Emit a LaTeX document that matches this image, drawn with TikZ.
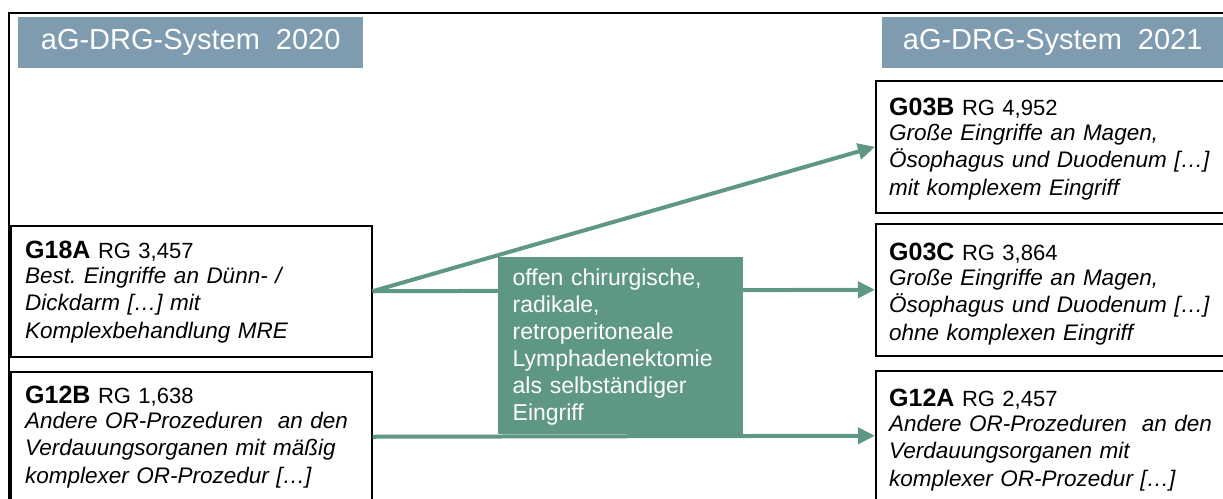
\documentclass[tikz,border=0pt]{standalone}
\usepackage{fontspec}
\setmainfont{Liberation Sans}
\usetikzlibrary{arrows.meta}
\frenchspacing

\definecolor{headblue}{RGB}{127,155,175}
\definecolor{drggreen}{RGB}{94,151,131}

\tikzset{
  frameline/.style={draw=black, line width=2.5pt},
  header/.style={fill=headblue, draw=none, anchor=north west, inner sep=0pt,
    text=white, font=\fontsize{29}{31}\selectfont},
  drgbox/.style={draw=black, line width=1.5pt, fill=white, anchor=north west,
    inner sep=0pt},
  drgtext/.style={anchor=base west, inner sep=0pt, text width=400pt, align=left,
    font=\fontsize{22.5}{27.5}\selectfont},
  notebox/.style={fill=drggreen, draw=none, anchor=north west, inner sep=0pt},
  notetext/.style={anchor=base west, inner sep=0pt, text width=240pt, align=left,
    text=white, font=\fontsize{23}{27}\selectfont},
  flow/.style={draw=drggreen, line width=4pt,
    -{Triangle[length=17pt,width=16pt]}},
}

\newcommand{\drgcode}[2]{{\fontsize{25}{27.5}\selectfont\bfseries #1} {\fontsize{22}{27.5}\selectfont RG #2}}

\begin{document}
\begin{tikzpicture}[x=1pt,y=-1pt]
  \useasboundingbox (0,0) rectangle (1223,498);
  \clip (0,0) rectangle (1223,498);

  % outer frame (open to the right and bottom)
  \draw[frameline] (9,540) -- (9,13) -- (1260,13);

  % system headers
  \node[header, minimum width=345pt, minimum height=51pt] (h2020) at (18,17)
    {aG-DRG-System\hspace{16pt}2020};
  \node[header, minimum width=341pt, minimum height=51pt] (h2021) at (882,17)
    {aG-DRG-System\hspace{16pt}2021};

  % DRG boxes, 2020
  \node[drgbox, minimum width=361pt, minimum height=131pt] (g18a) at (10,225) {};
  \node[drgbox, minimum width=361pt, minimum height=130pt] (g12b) at (10,371) {};
  % DRG boxes, 2021
  \node[drgbox, minimum width=360pt, minimum height=132pt] (g03b) at (875,80) {};
  \node[drgbox, minimum width=360pt, minimum height=132pt] (g03c) at (875,223) {};
  \node[drgbox, minimum width=360pt, minimum height=130pt] (g12a) at (875,370) {};

  % box texts
  \node[drgtext] (g18at) at (25,258) {\drgcode{G18A}{3,457}\\[-2.5pt]
    \itshape Best. Eingriffe an Dünn- /\\ Dickdarm […] mit\\ Komplexbehandlung MRE};
  \node[drgtext] (g12bt) at (25,403) {\drgcode{G12B}{1,638}\\[-2.5pt]
    \itshape Andere OR-Prozeduren\ \ an den\\ Verdauungsorganen mit mäßig\\ komplexer OR-Prozedur […]};
  \node[drgtext] (g03bt) at (889,115) {\drgcode{G03B}{4,952}\\[-2.5pt]
    \itshape Große Eingriffe an Magen,\\ Ösophagus und Duodenum […]\\ mit komplexem Eingriff};
  \node[drgtext] (g03ct) at (889,260) {\drgcode{G03C}{3,864}\\[-2.5pt]
    \itshape Große Eingriffe an Magen,\\ Ösophagus und Duodenum […]\\ ohne komplexen Eingriff};
  \node[drgtext] (g12at) at (889,406) {\drgcode{G12A}{2,457}\\[-2.5pt]
    \itshape Andere OR-Prozeduren\ \ an den\\ Verdauungsorganen mit\\ komplexer OR-Prozedur […]};

  % regrouping arrows
  \draw[flow] (g18a.east) -- (g03b.west);
  \draw[flow] (g18a.east) -- (g03c.west);
  \draw[flow] (g12b.east) -- (g12a.west);

  % criterion box
  \node[notebox, minimum width=245pt, minimum height=177pt] (crit) at (498,257) {};
  \node[notetext] (critt) at (512.5,285) {offen chirurgische,\\ radikale,\\
    retroperitoneale\\ Lymphadenektomie\\ als selbständiger\\ Eingriff};
\end{tikzpicture}
\end{document}
